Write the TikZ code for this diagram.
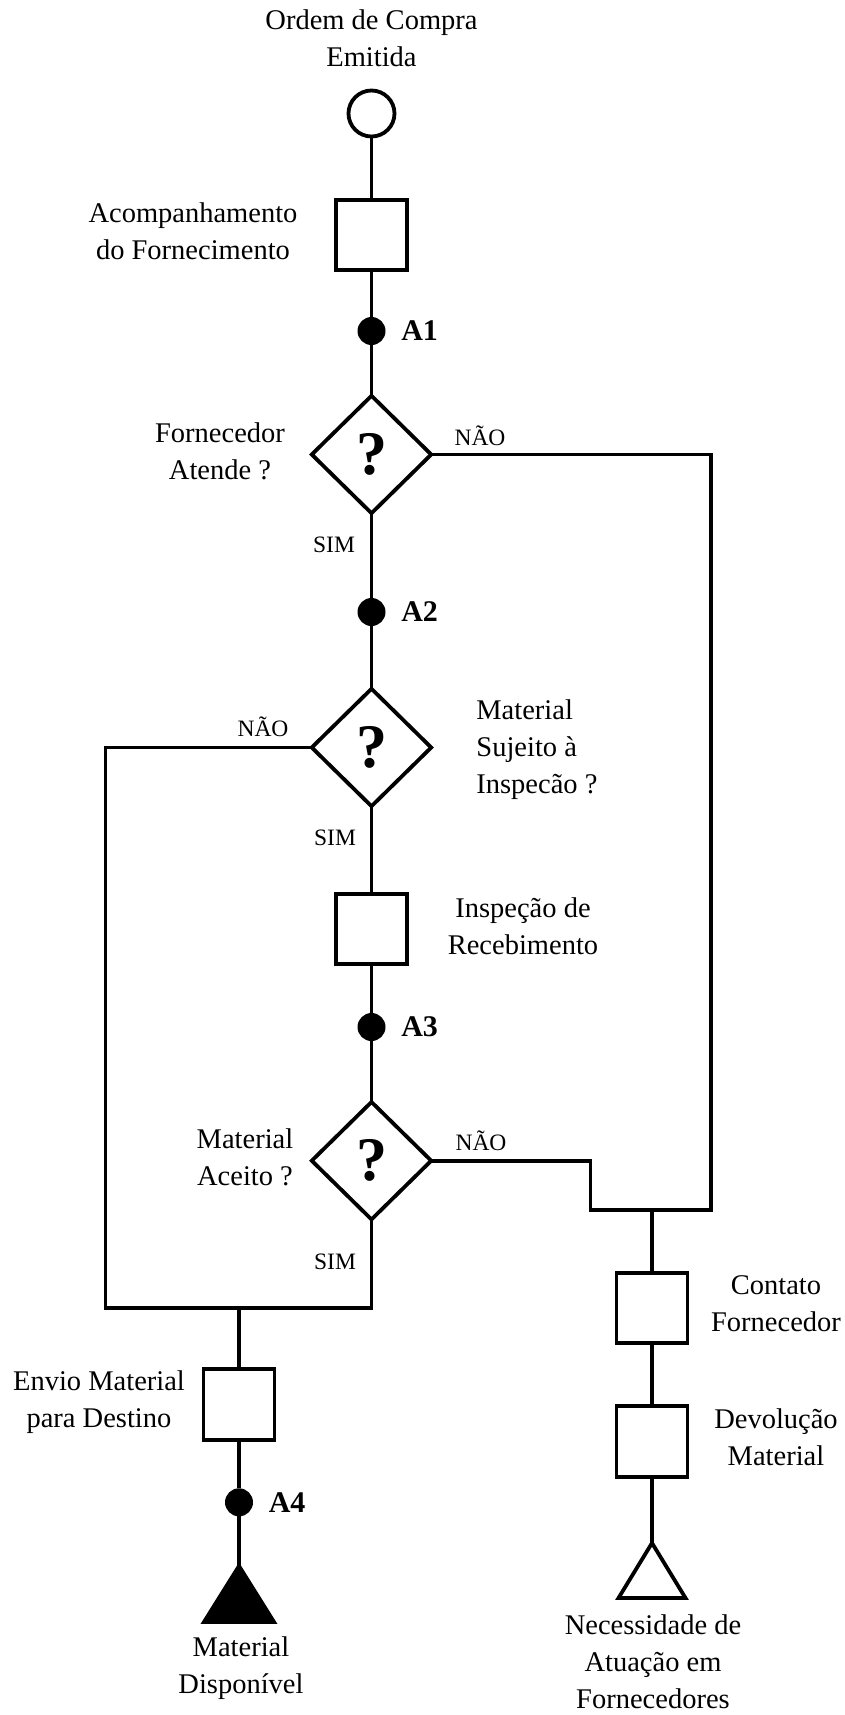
\documentclass[tikz,border=0pt]{standalone}
\usepackage{fontspec}
\setmainfont{Liberation Serif}
\usetikzlibrary{shapes.geometric}
\begin{document}
\begin{tikzpicture}[x=1pt,y=-1pt,
  line width=3.8pt, line join=miter, line cap=rect,
  lbl/.style={font=\fontsize{28.5}{37}\selectfont, align=center, inner sep=0pt},
  lblleft/.style={font=\fontsize{28.5}{37}\selectfont, align=left, inner sep=0pt, anchor=west},
  sml/.style={font=\fontsize{23.5}{28}\selectfont, inner sep=0pt},
  stepbox/.style={draw, line width=3.8pt, minimum width=71pt, minimum height=70.5pt, inner sep=0pt},
  dotnode/.style={circle, fill=black, draw=none, inner sep=0pt, minimum size=28pt},
  albl/.style={font=\bfseries\fontsize{30}{34}\selectfont, inner sep=0pt, label distance=12pt},
  decision/.style={diamond, draw, line width=3.8pt, minimum width=121pt, minimum height=119pt, inner sep=0pt, font=\bfseries\fontsize{62}{66}\selectfont},
  startnode/.style={circle, draw, line width=3.8pt, minimum size=46pt, inner sep=0pt}
]
\useasboundingbox (0,0) rectangle (845,1715);
\fill[white] (0,0) rectangle (845,1715);

% main column nodes
\node[lbl] (title) at (371.5,38) {Ordem de Compra\\Emitida};
\node[startnode] (start) at (371.5,113.5) {};
\node[stepbox] (b1) at (371.5,235) {};
\node[lbl] (b1l) at (193,231) {Acompanhamento\\do Fornecimento};
\node[dotnode, label={[albl]right:A1}] (a1) at (371.5,331) {};
\node[decision] (d1) at (371.5,454.5) {\raisebox{-5pt}{?}};
\node[lbl] (d1l) at (220,451.5) {Fornecedor\\Atende ?};
\node[sml] (n1) at (480,436) {NÃO};
\node[sml] (s1) at (334,545) {SIM};
\node[dotnode, label={[albl]right:A2}] (a2) at (371.5,612) {};
\node[decision] (d2) at (371.5,747.5) {\raisebox{-5pt}{?}};
\node[lblleft] (d2l) at (474.5,750) {Material\\Sujeito à\\Inspecão ?};
\node[sml] (n2) at (263,727) {NÃO};
\node[sml] (s2) at (335,838) {SIM};
\node[stepbox] (b2) at (371.5,929) {};
\node[lbl] (b2l) at (523,926) {Inspeção de\\Recebimento};
\node[dotnode, label={[albl]right:A3}] (a3) at (371.5,1027) {};
\node[decision] (d3) at (371.5,1160.7) {\raisebox{-5pt}{?}};
\node[lbl] (d3l) at (245,1157) {Material\\Aceito ?};
\node[sml] (n3) at (481,1141) {NÃO};
\node[sml] (s3) at (335,1262) {SIM};

% right branch
\node[stepbox] (c1) at (652,1308) {};
\node[lbl] (c1l) at (776,1304) {Contato\\Fornecedor};
\node[stepbox] (dv) at (652,1441.5) {};
\node[lbl] (dvl) at (776,1437) {Devolução\\Material};
\coordinate (t2) at (652,1543);
\draw (t2) -- (618.5,1598) -- (685.5,1598) -- cycle;
\node[lbl] (t2l) at (653,1662) {Necessidade de\\Atuação em\\Fornecedores};

% left branch
\node[stepbox] (env) at (239,1404.5) {};
\node[lbl] (envl) at (99,1402) {Envio Material\\para Destino};
\node[dotnode, label={[albl]right:A4}] (a4) at (239,1502.3) {};
\coordinate (t1) at (239,1566);
\filldraw (t1) -- (204,1622) -- (274,1622) -- cycle;
\node[lbl] (t1l) at (241,1668) {Material\\Disponível};

% junction coordinates
\coordinate (rc) at (711,1210);
\coordinate (lc) at (590.5,1210);
\coordinate (jn) at (652,1210);
\coordinate (bl) at (105.5,1308.3);
\coordinate (bm) at (371.5,1308.3);
\coordinate (bj) at (239,1308.3);

% connectors
\draw (start.south) -- (b1.north);
\draw (b1.south) -- (a1.north);
\draw (a1.south) -- (d1.north);
\draw (d1.south) -- (a2.north);
\draw (a2.south) -- (d2.north);
\draw (d2.south) -- (b2.north);
\draw (b2.south) -- (a3.north);
\draw (a3.south) -- (d3.north);
\draw (d1.east) -| (rc);
\draw (d3.east) -| (lc) -- (rc);
\draw (jn) -- (c1.north);
\draw (c1.south) -- (dv.north);
\draw (dv.south) -- (t2);
\draw (d2.west) -| (bl) -- (bm);
\draw (d3.south) -- (bm);
\draw (bj) -- (env.north);
\draw (env.south) -- (a4.north);
\draw (a4.south) -- (t1);
\end{tikzpicture}
\end{document}
